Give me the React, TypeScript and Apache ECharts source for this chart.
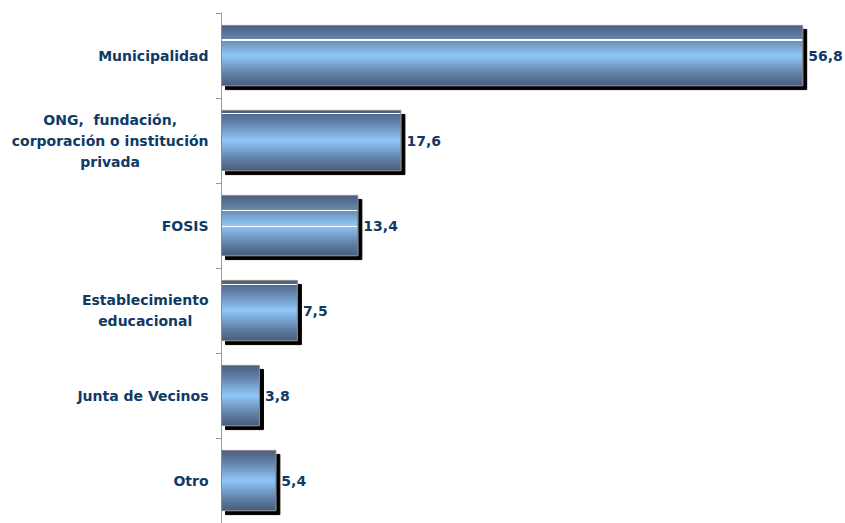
import React, { useEffect, useRef } from "react";
import * as echarts from "echarts";

const categories = [
  "Municipalidad",
  "ONG,  fundación,\ncorporación o institución\nprivada",
  "FOSIS",
  "Establecimiento\neducacional",
  "Junta de Vecinos",
  "Otro",
];
const values = [56.8, 17.6, 13.4, 7.5, 3.8, 5.4];

const LABEL_COLOR = "#0f3a68";
const FONT = "'DejaVu Sans', Verdana, sans-serif";
const CAT_FONT_SIZE = 14;

// thin white sheen lines seen in the reference bars (fraction of bar height)
const SHEEN: number[][] = [[0.24], [0.05], [0.25, 0.52], [0.07], [], []];

function measure(text: string): number {
  const c = document.createElement("canvas").getContext("2d")!;
  c.font = `bold ${CAT_FONT_SIZE}px ${FONT}`;
  return c.measureText(text).width;
}

const BASE = [
  { offset: 0, color: "#4a5f80" },
  { offset: 0.18, color: "#5f7ca2" },
  { offset: 0.5, color: "#8fc7f8" },
  { offset: 0.82, color: "#5f7ca2" },
  { offset: 1, color: "#485d7d" },
];

function colorAt(t: number): string {
  for (let i = 0; i < BASE.length - 1; i++) {
    const a = BASE[i], b = BASE[i + 1];
    if (t >= a.offset && t <= b.offset) {
      const f = (t - a.offset) / (b.offset - a.offset);
      const pa = [1, 3, 5].map((k) => parseInt(a.color.substr(k, 2), 16));
      const pb = [1, 3, 5].map((k) => parseInt(b.color.substr(k, 2), 16));
      const m = pa.map((v, j) => Math.round(v + (pb[j] - v) * f));
      return `rgb(${m.join(",")})`;
    }
  }
  return BASE[BASE.length - 1].color;
}

function makeGradient(lines: number[]) {
  const stops: { offset: number; color: string }[] = [];
  const pts = new Set<number>(BASE.map((s) => s.offset));
  const d = 0.012;
  lines.forEach((l) => {
    pts.add(l - d);
    pts.add(l + d);
  });
  const sorted = Array.from(pts).sort((a, b) => a - b);
  sorted.forEach((p) => {
    stops.push({ offset: p, color: colorAt(p) });
  });
  // insert white bands
  const out: { offset: number; color: string }[] = [];
  stops.forEach((s) => {
    out.push(s);
  });
  lines.forEach((l) => {
    out.push({ offset: l - d, color: "#ffffff" });
    out.push({ offset: l + d, color: "#ffffff" });
  });
  const final: { offset: number; color: string }[] = [];
  out
    .slice()
    .sort((a, b) => a.offset - b.offset)
    .forEach((s) => final.push(s));
  // order: for each line, colorAt(l-d), white(l-d), white(l+d), colorAt(l+d)
  const res: { offset: number; color: string }[] = [];
  const sortedPts = sorted;
  sortedPts.forEach((p) => {
    const isStart = lines.some((l) => Math.abs(l - d - p) < 1e-9);
    const isEnd = lines.some((l) => Math.abs(l + d - p) < 1e-9);
    if (isStart) {
      res.push({ offset: p, color: colorAt(p) });
      res.push({ offset: p, color: "#ffffff" });
    } else if (isEnd) {
      res.push({ offset: p, color: "#ffffff" });
      res.push({ offset: p, color: colorAt(p) });
    } else {
      res.push({ offset: p, color: colorAt(p) });
    }
  });
  return new echarts.graphic.LinearGradient(0, 0, 0, 1, res);
}

export default function App() {
  const ref = useRef<HTMLDivElement>(null);
  useEffect(() => {
    const chart = echarts.init(ref.current!, undefined, { renderer: "svg" });
    const rich: Record<string, any> = {};
    categories.forEach((cat, i) => {
      const w = Math.max(...cat.split("\n").map(measure)) + 1;
      rich["w" + i] = {
        width: w,
        align: "center",
        color: LABEL_COLOR,
        fontFamily: FONT,
        fontWeight: "bold",
        fontSize: CAT_FONT_SIZE,
        lineHeight: 21,
      };
    });
    chart.setOption({
      animation: false,
      grid: { left: 221, top: 13, width: 615, height: 517, containLabel: false },
      xAxis: {
        type: "value",
        min: 0,
        max: 60,
        show: false,
      },
      yAxis: {
        type: "category",
        data: categories,
        inverse: true,
        axisLine: { show: true, lineStyle: { color: "#9a9a9a", width: 1 } },
        axisTick: { show: true, length: 5, lineStyle: { color: "#9a9a9a" } },
        axisLabel: {
          color: LABEL_COLOR,
          fontFamily: FONT,
          fontWeight: "bold",
          fontSize: CAT_FONT_SIZE,
          lineHeight: 21,
          align: "right",
          margin: 12,
          rich,
          formatter: (v: string, idx: number) =>
            v
              .split("\n")
              .map((l) => `{w${idx}|${l}}`)
              .join("\n"),
        },
      },
      series: [
        {
          type: "bar",
          data: values.map((v, i) => ({
            value: v,
            itemStyle: { color: makeGradient(SHEEN[i]) },
          })),
          barWidth: "72%",
          itemStyle: {
            borderColor: "#8a8a8a",
            borderWidth: 1,
            shadowColor: "#000",
            shadowOffsetX: 4,
            shadowOffsetY: 4,
            shadowBlur: 0,
          },
          label: {
            show: true,
            position: "right",
            distance: 5,
            color: LABEL_COLOR,
            fontFamily: FONT,
            fontWeight: "bold",
            fontSize: 14,
            formatter: (p: any) => String(p.value).replace(".", ","),
          },
        },
      ],
    });
    return () => chart.dispose();
  }, []);
  return (
    <div
      ref={ref}
      style={{ position: "fixed", left: 0, top: 0, width: 845, height: 523, background: "#fff" }}
    />
  );
}
